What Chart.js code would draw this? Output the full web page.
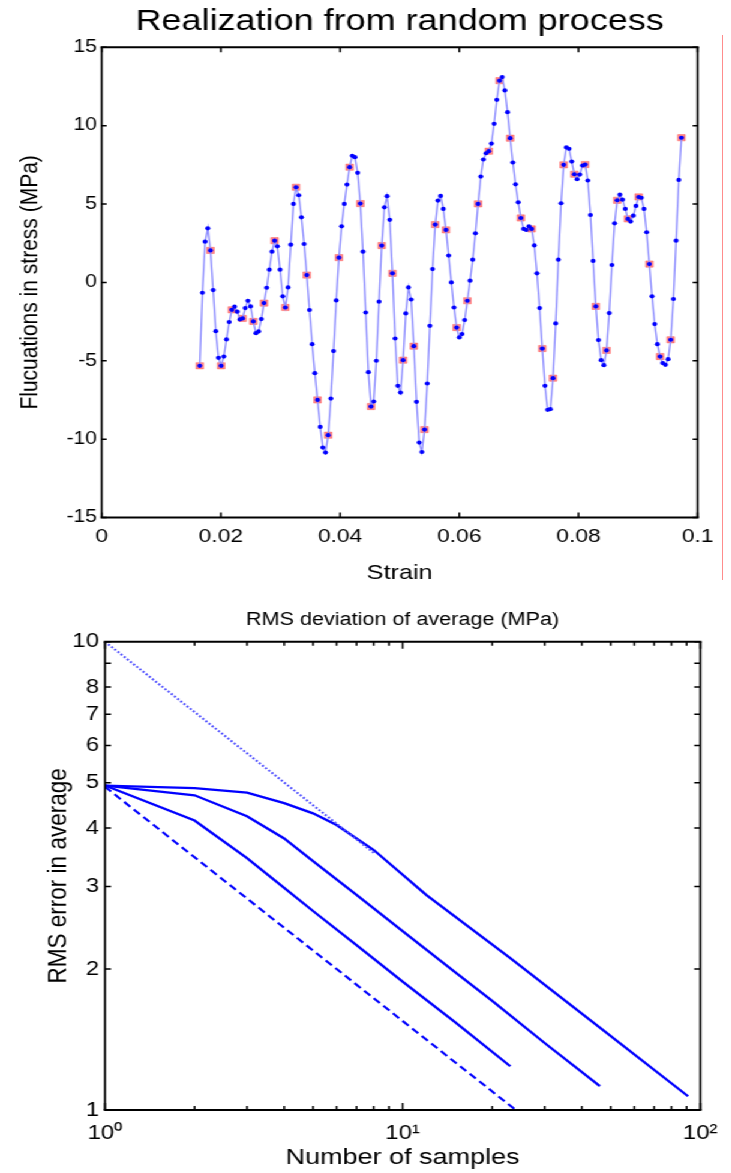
<!DOCTYPE html>
<html><head><meta charset="utf-8">
<script src="https://cdn.jsdelivr.net/npm/chart.js@4.4.0/dist/chart.umd.min.js"></script>
<style>
html,body{margin:0;padding:0;background:#fff;}
body{width:731px;height:1173px;position:relative;overflow:hidden;}
#wrap{position:absolute;left:0;top:0;width:609px;height:1173px;transform:scaleX(1.2);transform-origin:0 0;}
#wrap canvas{display:block;position:absolute;left:0;}
#c1{top:0;}
#c2{top:595px;}
#redline{position:absolute;left:722px;top:35px;width:1px;height:545px;background:#ff8c8c;}
</style></head>
<body>
<div id="wrap"><canvas id="c1" width="609" height="595"></canvas><canvas id="c2" width="609" height="578"></canvas></div>
<div id="redline"></div>
<script>
// ---------- Top chart data ----------
const strain = [
0.01646,0.01691,0.01736,0.01781,0.01826,0.01871,0.01915,0.01960,0.02005,0.02050,
0.02095,0.02140,0.02185,0.02230,0.02275,0.02320,0.02364,0.02409,0.02454,0.02499,
0.02544,0.02589,0.02634,0.02679,0.02724,0.02769,0.02813,0.02858,0.02903,0.02948,
0.02993,0.03038,0.03083,0.03128,0.03173,0.03218,0.03262,0.03307,0.03352,0.03397,
0.03442,0.03487,0.03532,0.03577,0.03622,0.03667,0.03711,0.03756,0.03801,0.03846,
0.03891,0.03936,0.03981,0.04026,0.04071,0.04116,0.04160,0.04205,0.04250,0.04295,
0.04340,0.04385,0.04430,0.04475,0.04520,0.04565,0.04609,0.04654,0.04699,0.04744,
0.04789,0.04834,0.04879,0.04924,0.04969,0.05014,0.05058,0.05103,0.05148,0.05193,
0.05238,0.05283,0.05328,0.05373,0.05418,0.05463,0.05507,0.05552,0.05597,0.05642,
0.05687,0.05732,0.05777,0.05822,0.05867,0.05912,0.05956,0.06001,0.06046,0.06091,
0.06136,0.06181,0.06226,0.06271,0.06316,0.06361,0.06405,0.06450,0.06495,0.06540,
0.06585,0.06630,0.06675,0.06720,0.06765,0.06810,0.06854,0.06899,0.06944,0.06989,
0.07034,0.07079,0.07124,0.07169,0.07214,0.07259,0.07303,0.07348,0.07393,0.07438,
0.07483,0.07528,0.07573,0.07618,0.07663,0.07708,0.07752,0.07797,0.07842,0.07887,
0.07932,0.07977,0.08022,0.08067,0.08112,0.08157,0.08201,0.08246,0.08291,0.08336,
0.08381,0.08426,0.08471,0.08516,0.08561,0.08606,0.08650,0.08695,0.08740,0.08785,
0.08830,0.08875,0.08920,0.08965,0.09010,0.09055,0.09099,0.09144,0.09189,0.09234,
0.09279,0.09324,0.09369,0.09414,0.09459,0.09504,0.09548,0.09593,0.09638,0.09683,
0.09728];
const stress = [
-5.32,-0.66,2.60,3.45,2.04,-0.49,-3.11,-4.81,-5.32,-4.73,
-3.64,-2.53,-1.75,-1.55,-1.87,-2.36,-2.30,-1.64,-1.17,-1.53,
-2.49,-3.24,-3.13,-2.34,-1.32,-0.34,0.81,1.96,2.66,2.30,
0.81,-0.89,-1.60,-0.32,2.41,5.01,6.07,5.56,4.15,2.45,
0.47,-1.76,-3.94,-5.79,-7.50,-9.22,-10.54,-10.86,-9.75,-7.41,
-4.38,-1.15,1.58,3.58,5.01,6.24,7.35,8.08,7.99,6.99,
5.03,1.96,-1.92,-5.73,-7.92,-7.60,-5.00,-1.23,2.35,4.79,
5.50,3.99,0.58,-3.58,-6.60,-7.03,-4.96,-1.98,-0.32,-1.09,
-4.07,-7.62,-10.22,-10.82,-9.39,-6.45,-2.77,0.85,3.69,5.22,
5.52,4.69,3.35,1.71,0.00,-1.60,-2.88,-3.51,-3.30,-2.40,
-1.17,0.11,1.45,3.13,5.01,6.75,7.84,8.24,8.37,8.86,
10.12,11.65,12.87,13.10,12.25,10.86,9.20,7.65,6.26,5.11,
4.11,3.41,3.35,3.58,3.41,2.36,0.58,-1.64,-4.22,-6.60,
-8.13,-8.09,-6.11,-2.62,1.45,5.05,7.50,8.61,8.52,7.71,
6.90,6.58,6.88,7.46,7.52,6.50,4.30,1.37,-1.53,-3.68,
-4.96,-5.28,-4.34,-1.96,1.11,3.77,5.24,5.60,5.28,4.69,
4.05,3.88,4.26,4.88,5.45,5.40,4.69,3.20,1.17,-0.89,
-2.66,-3.94,-4.73,-5.15,-5.26,-4.90,-3.66,-1.06,2.66,6.54,
9.23];
const markEvery = 4; // every 4th sample is highlighted with a red square
const strainTicks = [0, 0.02, 0.04, 0.06, 0.08, 0.1];
const strainTickLabels = ['0', '0.02', '0.04', '0.06', '0.08', '0.1'];
const stressTicks = [-15, -10, -5, 0, 5, 10, 15];
const stressTickLabels = ['-15', '-10', '-5', '0', '5', '10', '15'];

// ---------- Bottom chart data ----------
const nDotted = [1, 8];
const rmsDotted = [10, 3.54];
const nDashed = [1, 24];
const rmsDashed = [4.9, 1.0];
const nLow = [1, 2, 3, 4, 5, 7, 10, 15, 23];
const rmsLow = [4.93, 4.15, 3.45, 2.98, 2.66, 2.25, 1.88, 1.54, 1.24];
const nMid = [1, 2, 3, 4, 5, 7, 10, 15, 20, 30, 46];
const rmsMid = [4.93, 4.70, 4.24, 3.80, 3.40, 2.88, 2.41, 1.97, 1.71, 1.39, 1.125];
const nHigh = [1, 2, 3, 4, 5, 6, 8, 12, 23, 46, 91];
const rmsHigh = [4.93, 4.87, 4.76, 4.52, 4.30, 4.06, 3.59, 2.88, 2.11, 1.50, 1.07];
const nTicks = [1, 10, 100];
const nTickLabels = ['10\u2070', '10\u00B9', '10\u00B2'];
const nMinorTicks = [2, 3, 4, 5, 6, 7, 8, 9, 20, 30, 40, 50, 60, 70, 80, 90];
const rmsTicks = [1, 2, 3, 4, 5, 6, 7, 8, 9, 10];
const rmsTickLabels = ['1', '2', '3', '4', '5', '6', '7', '8', '', '10'];

// ---------- helpers ----------
const FONT = '"Liberation Sans", Arial, Helvetica, sans-serif';
Chart.defaults.font.family = FONT;
Chart.defaults.color = '#000';

const pairs = (xs, ys) => xs.map((x, i) => ({x: x, y: ys[i]}));

const matFrame = {
  id: 'matFrame',
  afterDraw(chart, args, o) {
    const {ctx, chartArea: a, scales} = chart;
    ctx.save();
    ctx.strokeStyle = '#000';
    ctx.lineWidth = o.tickWidth;
    ctx.beginPath();
    (o.xTicks || []).forEach(t => {
      const px = scales.x.getPixelForValue(t.v);
      ctx.moveTo(px, a.bottom); ctx.lineTo(px, a.bottom - t.len);
      ctx.moveTo(px, a.top); ctx.lineTo(px, a.top + t.len);
    });
    ctx.stroke();
    ctx.beginPath();
    (o.yTicks || []).forEach(t => {
      const py = scales.y.getPixelForValue(t.v);
      ctx.moveTo(a.left, py); ctx.lineTo(a.left + t.len, py);
      ctx.moveTo(a.right, py); ctx.lineTo(a.right - t.len, py);
    });
    ctx.stroke();
    ctx.lineWidth = o.hWidth;
    ctx.beginPath();
    ctx.moveTo(a.left - 1, a.top); ctx.lineTo(a.right + 1, a.top);
    ctx.moveTo(a.left - 1, a.bottom); ctx.lineTo(a.right + 1, a.bottom);
    ctx.stroke();
    ctx.lineWidth = o.vWidth;
    ctx.beginPath();
    ctx.moveTo(a.left, a.top); ctx.lineTo(a.left, a.bottom);
    ctx.moveTo(a.right, a.top); ctx.lineTo(a.right, a.bottom);
    ctx.stroke();
    ctx.restore();
  }
};

// ---------- Top chart ----------
const topPts = pairs(strain, stress);
new Chart(document.getElementById('c1'), {
  type: 'scatter',
  data: {
    datasets: [
      {
        data: topPts,
        showLine: true,
        borderColor: '#8f8fff',
        borderWidth: 1.4,
        pointRadius: 2.1,
        pointBackgroundColor: '#0000ff',
        pointBorderWidth: 0,
        order: 0
      },
      {
        data: topPts.filter((p, i) => i % markEvery === 0),
        showLine: false,
        pointStyle: 'rect',
        pointRadius: 4.4,
        pointBackgroundColor: 'rgba(255,110,110,0.8)',
        pointBorderColor: 'rgba(255,70,70,0.55)',
        pointBorderWidth: 0.8,
        order: 1
      }
    ]
  },
  options: {
    responsive: false,
    animation: false,
    events: [],
    layout: {padding: {left: 0, right: 27.6, top: 0, bottom: 0}},
    plugins: {
      legend: {display: false},
      tooltip: {enabled: false},
      title: {
        display: true,
        fullSize: false,
        text: 'Realization from random process',
        color: '#000',
        font: {size: 30, weight: 'normal', family: FONT},
        padding: {top: 4, bottom: 7.3}
      },
      matFrame: {
        tickWidth: 1.5, hWidth: 2, vWidth: 1.7,
        xTicks: strainTicks.map(v => ({v: v, len: 5})),
        yTicks: stressTicks.map(v => ({v: v, len: 4.2}))
      }
    },
    scales: {
      x: {
        type: 'linear', min: 0, max: 0.1,
        afterBuildTicks: s => { s.ticks = strainTicks.map(v => ({value: v})); },
        afterFit: s => { s.height = 77.5; },
        grid: {display: false, drawTicks: false},
        border: {display: false},
        ticks: {
          callback: (v, i) => strainTickLabels[i],
          font: {size: 19}, color: '#000', padding: 8, maxRotation: 0, autoSkip: false
        },
        title: {display: true, text: 'Strain', color: '#000', font: {size: 21}, padding: {top: 0, bottom: 9.4}}
      },
      y: {
        type: 'linear', min: -15, max: 15,
        afterBuildTicks: s => { s.ticks = stressTicks.map(v => ({value: v})); },
        afterFit: s => { s.width = 84.7; },
        grid: {display: false, drawTicks: false},
        border: {display: false},
        ticks: {
          callback: (v, i) => stressTickLabels[i],
          font: {size: 17.5}, color: '#000', padding: 4, autoSkip: false
        },
        title: {display: true, text: 'Flucuations in stress (MPa)', color: '#000', font: {size: 21}, padding: {top: 12.4, bottom: 0}}
      }
    }
  },
  plugins: [matFrame]
});

// ---------- Bottom chart ----------
const blue = '#0000ff';
new Chart(document.getElementById('c2'), {
  type: 'scatter',
  data: {
    datasets: [
      {data: pairs(nDotted, rmsDotted), showLine: true, borderColor: '#5050ff', borderWidth: 2, borderDash: [1.8, 1.8], pointRadius: 0},
      {data: pairs(nHigh, rmsHigh), showLine: true, borderColor: blue, borderWidth: 2.3, pointRadius: 0},
      {data: pairs(nMid, rmsMid), showLine: true, borderColor: blue, borderWidth: 2.3, pointRadius: 0},
      {data: pairs(nLow, rmsLow), showLine: true, borderColor: blue, borderWidth: 2.3, pointRadius: 0},
      {data: pairs(nDashed, rmsDashed), showLine: true, borderColor: blue, borderWidth: 2.1, borderDash: [7, 4], pointRadius: 0}
    ]
  },
  options: {
    responsive: false,
    animation: false,
    events: [],
    layout: {padding: {left: 0, right: 25.1, top: 0, bottom: 0}},
    plugins: {
      legend: {display: false},
      tooltip: {enabled: false},
      title: {
        display: true,
        fullSize: false,
        text: 'RMS deviation of average (MPa)',
        color: '#000',
        font: {size: 18, weight: 'normal', family: FONT},
        padding: {top: 14.2, bottom: 10.9}
      },
      matFrame: {
        tickWidth: 1.5, hWidth: 2, vWidth: 1.7,
        xTicks: nTicks.map(v => ({v: v, len: 7})).concat(nMinorTicks.map(v => ({v: v, len: 4}))),
        yTicks: rmsTicks.map(v => ({v: v, len: 5}))
      }
    },
    scales: {
      x: {
        type: 'logarithmic', min: 1, max: 100,
        afterBuildTicks: s => { s.ticks = nTicks.map(v => ({value: v})); },
        afterFit: s => { s.height = 63; },
        grid: {display: false, drawTicks: false},
        border: {display: false},
        ticks: {
          callback: (v, i) => nTickLabels[i],
          font: {size: 20}, color: '#000', padding: 11, maxRotation: 0, autoSkip: false
        },
        title: {display: true, text: 'Number of samples', color: '#000', font: {size: 22.5}, padding: {top: 0, bottom: 1.5}}
      },
      y: {
        type: 'logarithmic', min: 1, max: 10,
        afterBuildTicks: s => { s.ticks = rmsTicks.map(v => ({value: v})); },
        afterFit: s => { s.width = 87.5; },
        grid: {display: false, drawTicks: false},
        border: {display: false},
        ticks: {
          callback: (v, i) => rmsTickLabels[i],
          font: {size: 20}, color: '#000', padding: 5, autoSkip: false
        },
        title: {display: true, text: 'RMS error in average', color: '#000', font: {size: 22.5}, padding: {top: 35, bottom: 0}}
      }
    }
  },
  plugins: [matFrame]
});
</script>
</body></html>
